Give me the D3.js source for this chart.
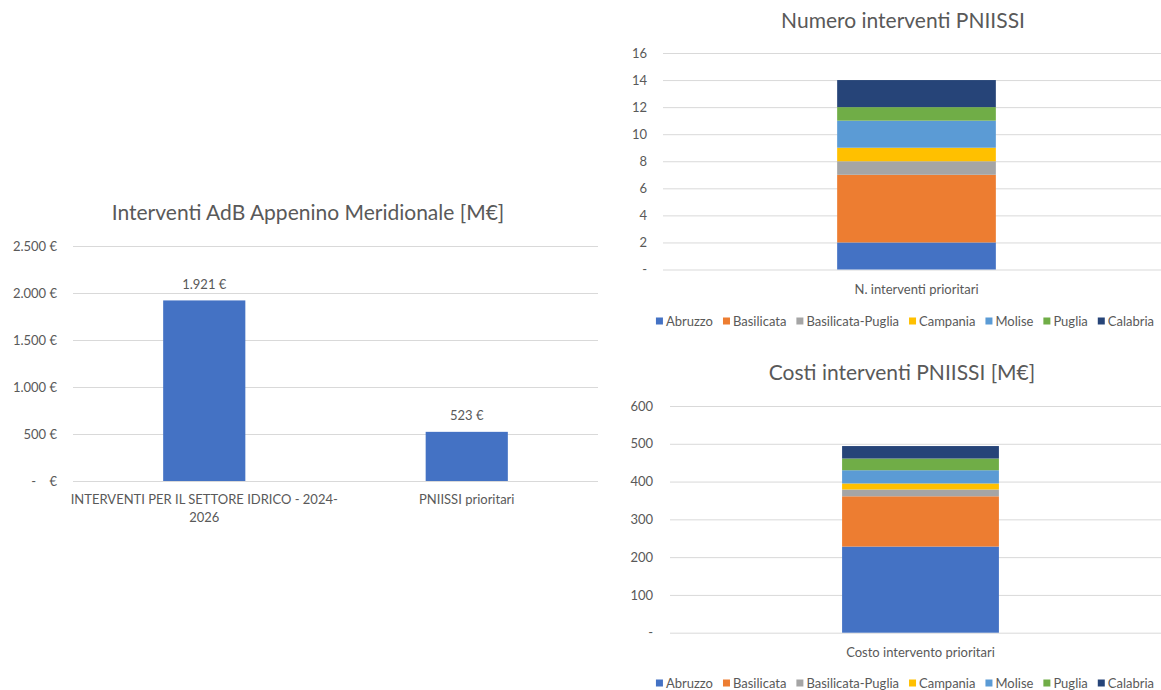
<!DOCTYPE html>
<html>
<head>
<meta charset="utf-8">
<script src="https://cdn.jsdelivr.net/npm/d3@7"></script>
<style>
body { margin: 0; background: #fff; }
text { font-family: Lato, "Open Sans", sans-serif; fill: #595959; }
.grid line { stroke: #d9d9d9; stroke-width: 1; }
.grid path { display: none; }
</style>
</head>
<body>
<svg id="chart" width="1161" height="690"></svg>
<script>
// ---- data ----
var totCategories = ["INTERVENTI PER IL SETTORE IDRICO - 2024-2026", "PNIISSI prioritari"];
var totValues = [1921, 523];
var totTicks = [0, 500, 1000, 1500, 2000, 2500];

var regions = ["Abruzzo", "Basilicata", "Basilicata-Puglia", "Campania", "Molise", "Puglia", "Calabria"];
var regionColors = ["#4472C4", "#ED7D31", "#A5A5A5", "#FFC000", "#5B9BD5", "#70AD47", "#264478"];

var countCategory = ["N. interventi prioritari"];
var countValues = [2, 5, 1, 1, 2, 1, 2];
var countTicks = [0, 2, 4, 6, 8, 10, 12, 14, 16];

var costCategory = ["Costo intervento prioritari"];
var costValues = [228, 133, 18, 16, 35, 31, 33];
var costTicks = [0, 100, 200, 300, 400, 500, 600];

var itLocale = d3.formatLocale({ decimal: ",", thousands: ".", grouping: [3], currency: ["", " €"] });
var fmtInt = itLocale.format(",d");
function euro(v) { return v === 0 ? "-    €" : fmtInt(v) + " €"; }

var FS = "13px", TITLE_FS = "21px";
var svg = d3.select("#chart");

// wrap a category label into lines no wider than width (breaks at spaces and after hyphens)
function wrapLabel(textSel, width) {
	textSel.each(function() {
		var t = d3.select(this), full = t.text();
		var tokens = [];
		full.split(" ").forEach(function(w) {
			var parts = w.match(/[^-]+-?|-/g) || [w];
			parts.forEach(function(p, i) { tokens.push({ s: p, glue: i === 0 ? " " : "" }); });
		});
		t.text(null);
		var line = "";
		var ts = t.append("tspan").attr("x", 0).attr("dy", "0.71em");
		tokens.forEach(function(tok) {
			var next = line === "" ? tok.s : line + tok.glue + tok.s;
			ts.text(next);
			if (ts.node().getComputedTextLength() > width && line !== "") {
				ts.text(line);
				line = tok.s;
				ts = t.append("tspan").attr("x", 0).attr("dy", "1.4em").text(line);
			} else {
				line = next;
			}
		});
	});
}

//------------------------------------------------------------
// left: simple bar chart
//------------------------------------------------------------
(function() {
	var x0 = 73, x1 = 598, yTop = 246, yBot = 481;
	var x = d3.scaleBand().domain(totCategories).range([x0, x1]).paddingInner(0).paddingOuter(0);
	var y = d3.scaleLinear().domain([0, 2500]).range([yBot, yTop]);
	var g = svg.append("g");

	g.append("text").attr("x", 308).attr("y", 213).attr("dy", "0.35em")
		.attr("text-anchor", "middle").style("font-size", TITLE_FS)
		.text("Interventi AdB Appenino Meridionale [M€]");

	var ax = g.append("g").attr("class", "grid").attr("transform", "translate(" + x0 + ",0)")
		.call(d3.axisLeft(y).tickValues(totTicks).tickSize(-(x1 - x0)).tickPadding(16).tickFormat(euro));
	ax.selectAll("text").style("font-size", FS).style("white-space", "pre");

	var bw = x.bandwidth() * 0.313;
	g.selectAll(".bar").data(totValues).enter().append("rect")
		.attr("x", function(d, i) { return x(totCategories[i]) + (x.bandwidth() - bw) / 2; })
		.attr("y", function(d) { return y(d); })
		.attr("width", bw)
		.attr("height", function(d) { return y(0) - y(d); })
		.attr("fill", "#4472C4");

	g.selectAll(".val").data(totValues).enter().append("text")
		.attr("x", function(d, i) { return x(totCategories[i]) + x.bandwidth() / 2; })
		.attr("y", function(d) { return y(d) - 16; })
		.attr("dy", "0.35em").attr("text-anchor", "middle").style("font-size", FS)
		.text(euro);

	var xl = g.append("g").selectAll("g").data(totCategories).enter().append("g")
		.attr("transform", function(d) { return "translate(" + (x(d) + x.bandwidth() / 2) + "," + (yBot + 14) + ")"; });
	xl.append("text").attr("text-anchor", "middle").style("font-size", FS).text(function(d) { return d; })
		.call(wrapLabel, x.bandwidth() * 1.08);
})();

//------------------------------------------------------------
// right: stacked bar charts
//------------------------------------------------------------
function stackedChart(opt) {
	var g = svg.append("g");
	var x = d3.scaleBand().domain(opt.category).range([opt.x0, opt.x1]);
	var y = d3.scaleLinear().domain([0, opt.max]).range([opt.yBot, opt.yTop]);

	g.append("text").attr("x", opt.titleX).attr("y", opt.titleY).attr("dy", "0.35em")
		.attr("text-anchor", "middle").style("font-size", TITLE_FS).text(opt.title);

	var ax = g.append("g").attr("class", "grid").attr("transform", "translate(" + opt.x0 + ",0)")
		.call(d3.axisLeft(y).tickValues(opt.ticks).tickSize(-(opt.x1 - opt.x0)).tickPadding(opt.pad)
			.tickFormat(function(v) { return v === 0 ? "-" : v; }));
	ax.selectAll("text").style("font-size", FS);

	var row = {};
	regions.forEach(function(r, i) { row[r] = opt.values[i]; });
	var series = d3.stack().keys(regions)([row]);
	var bw = x.bandwidth() * 0.313;
	var bx = x(opt.category[0]) + (x.bandwidth() - bw) / 2;

	g.selectAll(".seg").data(series).enter().append("rect")
		.attr("x", bx)
		.attr("y", function(s) { return y(s[0][1]); })
		.attr("width", bw)
		.attr("height", function(s) { return y(s[0][0]) - y(s[0][1]); })
		.attr("fill", function(s, i) { return regionColors[i]; });

	g.append("text").attr("x", x(opt.category[0]) + x.bandwidth() / 2).attr("y", opt.yBot + 20)
		.attr("dy", "0.35em").attr("text-anchor", "middle").style("font-size", FS)
		.text(opt.category[0]);

	// legend
	var lg = g.append("g");
	var cx = 0;
	regions.forEach(function(r, i) {
		var it = lg.append("g").attr("transform", "translate(" + cx + ",0)");
		it.append("rect").attr("x", 0).attr("y", -3.5).attr("width", 7).attr("height", 7).attr("fill", regionColors[i]);
		var t = it.append("text").attr("x", 10).attr("dy", "0.35em").style("font-size", FS).text(r);
		cx += 10 + t.node().getComputedTextLength() + 10;
	});
	var lw = cx - 10;
	lg.attr("transform", "translate(" + (opt.legendX - lw / 2) + "," + opt.legendY + ")");
}

stackedChart({
	title: "Numero interventi PNIISSI", titleX: 903, titleY: 21,
	category: countCategory, values: countValues, ticks: countTicks, max: 16,
	x0: 663, x1: 1170, yTop: 53, yBot: 269.5, pad: 16,
	legendX: 905, legendY: 321
});

stackedChart({
	title: "Costi interventi PNIISSI [M€]", titleX: 902, titleY: 373,
	category: costCategory, values: costValues, ticks: costTicks, max: 600,
	x0: 670, x1: 1171, yTop: 406, yBot: 632.7, pad: 17,
	legendX: 905, legendY: 683
});
</script>
</body>
</html>
